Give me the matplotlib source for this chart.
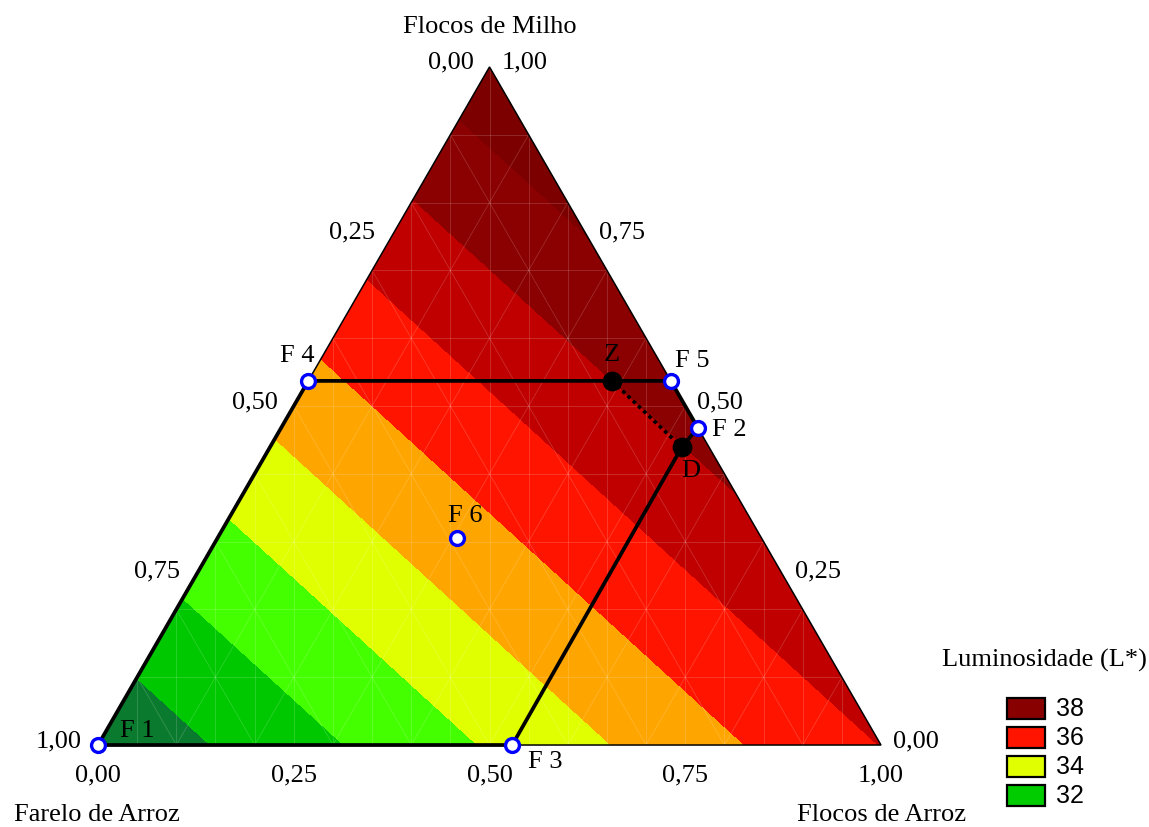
import numpy as np
import matplotlib
matplotlib.use('Agg')
import matplotlib.pyplot as plt
import matplotlib.tri as mtri
from matplotlib.patches import Polygon, Rectangle

# ── Data ───────────────────────────────────────────────────────────────────────
# linear mixture model for L* (vertex values: Farelo, Flocos de Arroz, Flocos de Milho)
coef_farelo, coef_arroz, coef_milho = 30.16, 36.02, 38.66
levels = [20, 31, 32, 33, 34, 35, 36, 37, 38, 45]
band_colors = ['#0a7a2e', '#00c800', '#44ff00', '#e0ff00', '#ffa500',
               '#ff1400', '#c00000', '#8b0000', '#7d0000']

legend_labels = ['38', '36', '34', '32']
legend_colors = ['#880000', '#ff1400', '#e0ff00', '#00cc00']

# design points (farelo, flocos de arroz, flocos de milho)
pt_names = ['F 1', 'F 2', 'F 3', 'F 4', 'F 5', 'F 6']
pt_a = [1.000, 0.000, 0.471, 0.463, 0.000, 0.389]
pt_b = [0.000, 0.532, 0.529, 0.000, 0.463, 0.306]
pt_c = [0.000, 0.468, 0.000, 0.537, 0.537, 0.305]

opt_names = ['Z', 'D']
opt_a = [0.075, 0.035]
opt_b = [0.388, 0.526]
opt_c = [0.537, 0.439]

ticks = [0.0, 0.25, 0.5, 0.75, 1.0]
tick_txt = ['0,00', '0,25', '0,50', '0,75', '1,00']

H = np.sqrt(3) / 2


def to_xy(b, c):
    b = np.asarray(b, float)
    c = np.asarray(c, float)
    return b + c / 2, c * H


# ── Grid ───────────────────────────────────────────────────────────────────────
n = 120
bb, cc = [], []
for i in range(n + 1):
    for j in range(n + 1 - i):
        bb.append(i / n)
        cc.append(j / n)
bb, cc = np.array(bb), np.array(cc)
aa = 1 - bb - cc
zz = coef_farelo * aa + coef_arroz * bb + coef_milho * cc
gx, gy = to_xy(bb, cc)
tri = mtri.Triangulation(gx, gy)

plt.rcParams['font.family'] = ['Liberation Serif', 'DejaVu Serif']
fig = plt.figure(figsize=(11.49, 8.27), dpi=100)
ax = fig.add_axes([0, 0, 1, 1])
ax.set_xlim(-0.1252, 1.3423)
ax.set_ylim(-0.1047, 0.9515)
ax.axis('off')

cs = ax.tricontourf(tri, zz, levels=levels, colors=band_colors)
tri_patch = Polygon([[0, 0], [1, 0], [0.5, H]], closed=True, fill=False,
                    edgecolor='black', linewidth=1.1, zorder=3)
ax.add_patch(tri_patch)
cs.set_clip_path(tri_patch)

# faint mesh lines
mesh_kw = dict(color='white', alpha=0.18, linewidth=0.6, zorder=2)
for k in range(1, 10):
    v = k / 10
    l1 = ax.plot([v / 2, 1 - v / 2], [v * H, v * H], **mesh_kw)[0]
    l2 = ax.plot([v, 0.5 + v / 2], [0, (1 - v) * H], **mesh_kw)[0]
    l3 = ax.plot([v, v / 2], [0, v * H], **mesh_kw)[0]
    for ln in (l1, l2, l3):
        ln.set_clip_path(tri_patch)
for k in range(1, 20):
    x = k / 20
    ln = ax.plot([x, x], [0, H], **mesh_kw)[0]
    ln.set_clip_path(tri_patch)

# ── Design region ─────────────────────────────────────────────────────────────
px, py = to_xy(pt_b, pt_c)
ox, oy = to_xy(opt_b, opt_c)
path_x = [px[0], px[3], ox[0], px[4], px[1], ox[1], px[2], px[0]]
path_y = [py[0], py[3], oy[0], py[4], py[1], oy[1], py[2], py[0]]
ax.plot(path_x, path_y, color='black', linewidth=2.7, zorder=4,
        solid_capstyle='round', solid_joinstyle='round')
ax.plot([ox[0], ox[1]], [oy[0], oy[1]], color='black', linewidth=2.6,
        linestyle=(0, (1, 1)), zorder=4)

ax.scatter(px, py, s=100, facecolor='white', edgecolor='#0000ff',
           linewidth=2.4, zorder=6, clip_on=False)
ax.scatter(ox, oy, s=175, color='black', zorder=6)

fs = 19
lab_off = {'F 1': (0.050, 0.018), 'F 2': (0.040, -0.003), 'F 3': (0.042, -0.022),
           'F 4': (-0.014, 0.032), 'F 5': (0.027, 0.026), 'F 6': (0.010, 0.028)}
for nm, x, y in zip(pt_names, px, py):
    dx, dy = lab_off[nm]
    ax.text(x + dx, y + dy, nm, fontsize=fs, ha='center', va='center', zorder=7)
ax.text(ox[0], oy[0] + 0.033, 'Z', fontsize=fs, ha='center', va='center', zorder=7)
ax.text(ox[1] + 0.012, oy[1] - 0.030, 'D', fontsize=fs, ha='center', va='center', zorder=7)

# ── Axis tick labels ──────────────────────────────────────────────────────────
def px2d(x_px, y_px):
    return (x_px - 98) / 783, (745 - y_px) / 783

# bottom: Flocos de Arroz
for t, s in zip(ticks, tick_txt):
    x, _ = to_xy(t, 0)
    ax.text(x, px2d(0, 775)[1], s, fontsize=fs, ha='center', va='center')
# left: Farelo de Arroz (1 at bottom-left)
for t, s in zip(ticks, tick_txt):
    if t == 0:
        continue
    x, y = to_xy(0, 1 - t)
    ax.text(x - 0.050, y + 0.005, s, fontsize=fs, ha='center', va='center')
# right: Flocos de Milho
for t, s in zip(ticks, tick_txt):
    if t == 1:
        continue
    x, y = to_xy(1 - t, t)
    ax.text(x + 0.044, y + 0.005, s, fontsize=fs, ha='center', va='center')
ax.text(*px2d(451, 62), '0,00', fontsize=fs, ha='center', va='center')
ax.text(*px2d(525, 62), '1,00', fontsize=fs, ha='center', va='center')

ax.text(*px2d(490, 27), 'Flocos de Milho', fontsize=fs, ha='center', va='center')
ax.text(*px2d(97, 815), 'Farelo de Arroz', fontsize=fs, ha='center', va='center')
ax.text(*px2d(882, 815), 'Flocos de Arroz', fontsize=fs, ha='center', va='center')

# ── Legend ────────────────────────────────────────────────────────────────────
ax.text(*px2d(1044, 660), 'Luminosidade (L*)', fontsize=fs, ha='center', va='center')
for i, (lab, col) in enumerate(zip(legend_labels, legend_colors)):
    x0, y0 = px2d(1007, 719 + i * 29)
    ax.add_patch(Rectangle((x0, y0), 38 / 783, 21 / 783, facecolor=col,
                           edgecolor='black', linewidth=1.6, clip_on=False))
    ax.text(*px2d(1056, 709 + i * 29), lab, fontsize=18, ha='left', va='center',
            family=['Liberation Sans', 'DejaVu Sans'])

plt.savefig('out.png', dpi=100)
plt.close()
